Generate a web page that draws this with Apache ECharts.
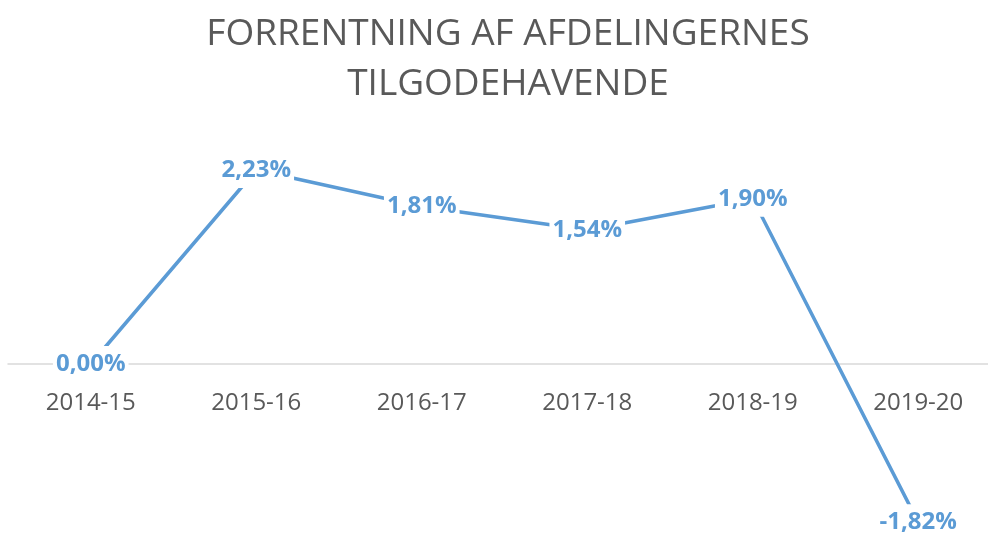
<!DOCTYPE html>
<html lang="da">
  <head>
    <meta charset="UTF-8" />
    <title>Forrentning</title>
    <script src="https://cdn.jsdelivr.net/npm/echarts@6/dist/echarts.min.js"></script>
    <style>
      html, body { margin: 0; padding: 0; background: #fff; }
    </style>
  </head>
  <body>
    <div id="main" style="width: 988px; height: 535px"></div>

    <script>
      // kategorier og værdier (procent)
      var years = ["2014-15", "2015-16", "2016-17", "2017-18", "2018-19", "2019-20"];
      var rates = [0.0, 2.23, 1.81, 1.54, 1.9, -1.82];

      var chart = echarts.init(document.getElementById("main"));
      // grid-bunden er nul-linjen, negative værdier tegnes under den (clip: false)
      var option = {
        animation: false,
        title: {
          text: "FORRENTNING AF AFDELINGERNES\nTILGODEHAVENDE",
          left: 503,
          textAlign: "center",
          top: 4,
          textStyle: {
            fontFamily: "Open Sans",
            fontSize: 37,
            fontWeight: "normal",
            color: "#595959",
            lineHeight: 50,
          },
        },
        grid: { left: 8, right: -13, top: 146.5, bottom: 171, outerBoundsMode: "none" },
        xAxis: {
          type: "category",
          data: years,
          axisLine: { lineStyle: { color: "#d9d9d9", width: 1.5 } },
          axisTick: { show: false },
          axisLabel: {
            fontFamily: "Open Sans",
            fontSize: 24,
            color: "#595959",
            margin: 27,
          },
        },
        yAxis: {
          type: "value",
          min: 0,
          max: 2.5,
          show: false,
          splitLine: { show: false },
        },
        series: [
          {
            type: "line",
            data: rates,
            clip: false,
            symbol: "circle",
            symbolSize: 0,
            lineStyle: { color: "#5b9bd5", width: 3.5 },
            itemStyle: { color: "#5b9bd5" },
            label: {
              show: true,
              position: "inside",
              fontFamily: "Open Sans",
              fontSize: 24,
              fontWeight: "bold",
              color: "#5b9bd5",
              backgroundColor: "#fff",
              padding: [6, 3],
              formatter: function (p) {
                return p.value.toFixed(2).replace(".", ",") + "%";
              },
            },
          },
        ],
      };
      chart.setOption(option);
    </script>
  </body>
</html>
